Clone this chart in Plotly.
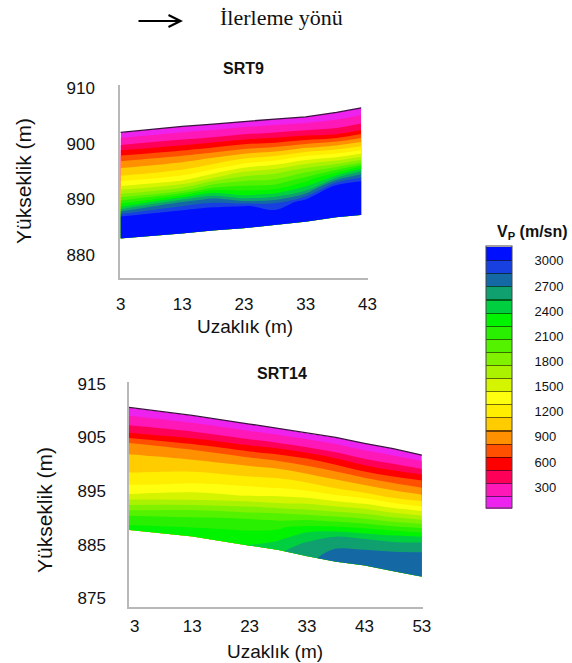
import plotly.graph_objects as go

W, H = 572, 663

# ---------------- data ----------------
depth_frac = [0.0, 0.1, 0.2, 0.3, 0.4, 0.5, 0.6, 0.7, 0.8, 0.9, 1.0]

# SRT9
srt9_dist = [3, 13, 18, 23, 28, 33, 38, 42]
srt9_top = [902.0, 903.1, 903.5, 904.0, 904.4, 904.8, 905.6, 906.4]
srt9_bottom = [883.0, 883.9, 884.4, 884.8, 885.4, 886.0, 886.8, 887.2]
srt9_vp = [
    [100, 100, 100, 100, 100, 100, 100, 100],
    [298, 285, 284, 285, 277, 268, 248, 251],
    [614, 583, 600, 615, 584, 585, 474, 481],
    [913, 906, 937, 972, 960, 992, 921, 904],
    [1109, 1126, 1207, 1314, 1328, 1406, 1323, 1314],
    [1429, 1422, 1581, 1720, 1719, 1816, 1797, 1844],
    [1858, 1891, 2095, 2072, 2015, 2168, 2384, 2609],
    [2380, 2672, 2715, 2425, 2380, 2520, 3070, 3090],
    [3060, 3080, 3080, 3060, 2880, 3080, 3100, 3110],
    [3110, 3120, 3120, 3120, 3110, 3120, 3130, 3130],
    [3150, 3150, 3150, 3150, 3150, 3150, 3150, 3150],
]

# SRT14
srt14_dist = [2, 13, 23, 28, 33, 38, 43, 48, 53]
srt14_top = [910.6, 909.1, 907.5, 906.7, 905.8, 905.0, 903.9, 902.9, 901.7]
srt14_bottom = [887.7, 886.5, 884.8, 884.0, 882.8, 881.8, 881.1, 880.0, 879.0]
srt14_vp = [
    [100, 100, 100, 100, 100, 100, 100, 100, 100],
    [251, 267, 277, 289, 305, 293, 278, 285, 309],
    [486, 549, 591, 628, 653, 616, 577, 589, 649],
    [862, 880, 902, 917, 919, 899, 884, 886, 905],
    [1008, 1035, 1080, 1118, 1139, 1112, 1125, 1133, 1205],
    [1095, 1197, 1270, 1312, 1371, 1402, 1469, 1516, 1623],
    [1235, 1362, 1470, 1554, 1693, 1777, 1854, 1937, 2080],
    [1429, 1620, 1845, 1927, 2061, 2168, 2250, 2364, 2507],
    [1783, 1991, 2128, 2179, 2380, 2551, 2605, 2667, 2706],
    [2140, 2200, 2264, 2349, 2580, 2709, 2740, 2756, 2768],
    [2300, 2330, 2400, 2520, 2650, 2800, 2810, 2820, 2830],
]

srt9_xticks = [3, 13, 23, 33, 43]
srt9_yticks = [880, 890, 900, 910]
srt14_xticks = [3, 13, 23, 33, 43, 53]
srt14_yticks = [875, 885, 895, 905, 915]
cbar_ticks = [300, 600, 900, 1200, 1500, 1800, 2100, 2400, 2700, 3000]

VP_MIN = 45.0
VP_STEP = 156.3
vp_colors = [
    "#ee22ee", "#ff18b8", "#ff0058", "#ff0000", "#ff5000",
    "#ff9000", "#ffcc00", "#ffee00", "#ffff10", "#d4f400",
    "#aaf200", "#80f200", "#55f200", "#28f000", "#00f400",
    "#00d040", "#10a070", "#1468a4", "#1840e0", "#0010ff",
]

# ---------------- helpers ----------------
n_col = len(vp_colors)


def darker(hexc, k=0.45):
    r, g, b = (int(hexc[i:i + 2], 16) for i in (1, 3, 5))
    return "rgb(%d,%d,%d)" % (r * k, g * k, b * k)


# plain stepped scale for the contour fills
fill_scale = []
for i, c in enumerate(vp_colors):
    fill_scale.append([i / n_col, c])
    fill_scale.append([(i + 1) / n_col, c])

# stepped scale with thin dark separators for the colour bar
SEP = 0.0045
bar_scale = []
for i, c in enumerate(vp_colors):
    lo, hi = i / n_col, (i + 1) / n_col
    bar_scale.append([lo, c])
    if i < n_col - 1:
        bar_scale.append([hi - SEP, c])
        bar_scale.append([hi - SEP, darker(c)])
        bar_scale.append([hi, darker(c)])
    else:
        bar_scale.append([hi, c])

FONT = "Liberation Sans, Arial, sans-serif"


def px_x(p):
    return p / W


def px_y(p):
    return 1 - p / H


def carpet_grid(dist, top, bottom):
    xg = [list(dist) for _ in depth_frac]
    yg = [[t + f * (b - t) for t, b in zip(top, bottom)] for f in depth_frac]
    return xg, yg


cax = dict(showgrid=False, showline=False, showticklabels="none",
           startline=False, endline=False, smoothing=0, minorgridcount=0)

contours = dict(start=VP_MIN + VP_STEP, end=VP_MIN + 19 * VP_STEP + 0.5,
                size=VP_STEP, coloring="fill", showlines=False)

fig = go.Figure()

for name, dist, top, bottom, vp, xa, ya in [
    ("c9", srt9_dist, srt9_top, srt9_bottom, srt9_vp, "x", "y"),
    ("c14", srt14_dist, srt14_top, srt14_bottom, srt14_vp, "x2", "y2"),
]:
    xg, yg = carpet_grid(dist, top, bottom)
    fig.add_trace(go.Carpet(a=dist, b=depth_frac, x=xg, y=yg, carpet=name,
                            aaxis=cax, baxis=cax, xaxis=xa, yaxis=ya))
    fig.add_trace(go.Contourcarpet(a=dist, b=depth_frac, z=vp, carpet=name,
                                   autocontour=False, contours=contours,
                                   line=dict(width=0), colorscale=fill_scale,
                                   showscale=False, xaxis=xa, yaxis=ya))
    fig.add_trace(go.Scatter(x=dist, y=top, mode="lines",
                             line=dict(color="#3c1240", width=1.3),
                             xaxis=xa, yaxis=ya, hoverinfo="skip"))

# colour bar
fig.add_trace(go.Scatter(
    x=[None], y=[None], mode="markers", hoverinfo="skip",
    marker=dict(color=[VP_MIN], cmin=VP_MIN, cmax=VP_MIN + n_col * VP_STEP,
                colorscale=bar_scale, showscale=True,
                colorbar=dict(x=px_x(486), xanchor="left", y=px_y(377.5),
                              yanchor="middle", len=261.6, lenmode="pixels",
                              thickness=26, thicknessmode="pixels",
                              outlinewidth=1, outlinecolor="#444",
                              xpad=0, ypad=0, tickvals=cbar_ticks,
                              ticks="outside", ticklen=20,
                              tickcolor="rgba(0,0,0,0)",
                              tickfont=dict(size=13, color="#111", family=FONT)))))

axis_common = dict(showgrid=False, zeroline=False, showline=True,
                   linecolor="#b8b8b8", linewidth=1.5, ticks="",
                   tickfont=dict(size=17, color="#111", family=FONT))

fig.update_layout(
    width=W, height=H,
    margin=dict(l=0, r=0, t=0, b=0, pad=0, autoexpand=False),
    paper_bgcolor="white", plot_bgcolor="white", showlegend=False,
    font=dict(family=FONT, color="#111"),
    xaxis=dict(domain=[px_x(120), px_x(368)], range=[2.9, 43.1],
               tickvals=srt9_xticks, anchor="y", ticklabelstandoff=10,
               **axis_common),
    yaxis=dict(domain=[px_y(278), px_y(85)], range=[875.9, 910.5],
               tickvals=srt9_yticks, anchor="x", ticklabelstandoff=20,
               **axis_common),
    xaxis2=dict(domain=[px_x(129), px_x(423)], range=[2.0, 53.2],
                tickvals=srt14_xticks, anchor="y2", ticklabelstandoff=3,
                **axis_common),
    yaxis2=dict(domain=[px_y(606.7), px_y(381.7)], range=[873.4, 915.4],
                tickvals=srt14_yticks, anchor="x2", ticklabelstandoff=18,
                **axis_common),
)


def ann(text, x, y, size, bold=False, angle=0, family=FONT, xanchor="center"):
    fig.add_annotation(text=("<b>%s</b>" % text) if bold else text,
                       x=px_x(x), y=px_y(y), xref="paper", yref="paper",
                       showarrow=False, textangle=angle, xanchor=xanchor,
                       yanchor="middle",
                       font=dict(size=size, family=family, color="#111"))


ann("SRT9", 243, 69, 16, bold=True)
ann("SRT14", 282, 373, 16, bold=True)
ann("Uzaklık (m)", 245, 326.5, 19)
ann("Uzaklık (m)", 274.5, 651, 19)
ann("Yükseklik (m)", 24, 181, 21, angle=-90)
ann("Yükseklik (m)", 44, 510, 21, angle=-90)
ann("V<sub>P</sub> (m/sn)", 532, 233, 16, bold=True)
ann("İlerleme yönü", 218, 17, 22, family="Liberation Serif, Times New Roman, serif",
    xanchor="left")

# direction arrow
fig.add_annotation(x=px_x(183), y=px_y(21), xref="paper", yref="paper",
                   ax=-46, ay=0, text="", showarrow=True, arrowhead=5,
                   arrowsize=1.3, arrowwidth=1.8, arrowcolor="#000")

fig.write_html("out.html")
